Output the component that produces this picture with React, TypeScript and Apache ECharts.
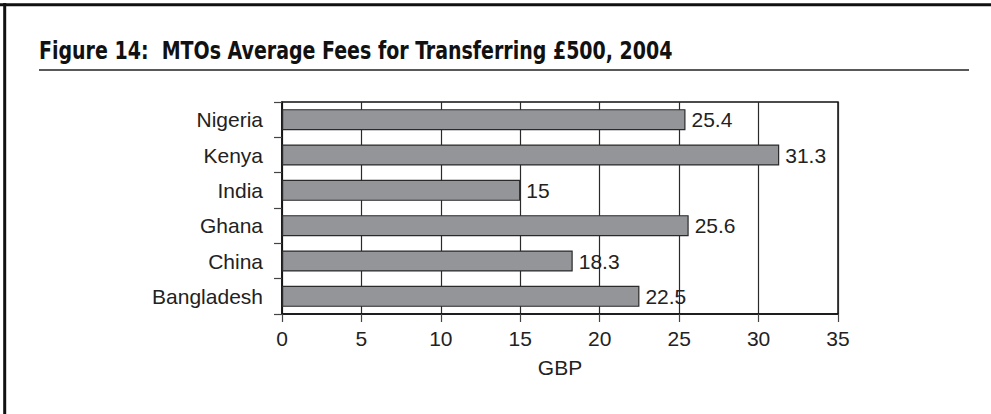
import React, { useEffect, useRef } from "react";
import * as echarts from "echarts";

const categories = ["Nigeria", "Kenya", "India", "Ghana", "China", "Bangladesh"];
const fees = [25.4, 31.3, 15, 25.6, 18.3, 22.5];
const titleText = "Figure 14:  MTOs Average Fees for Transferring £500, 2004";
const axisName = "GBP";

export default function App() {
  const ref = useRef<HTMLDivElement>(null);
  useEffect(() => {
    if (!ref.current) return;
    const chart = echarts.init(ref.current, null, { renderer: "svg" });
    const font = "'Liberation Sans', Arial, Helvetica, sans-serif";
    chart.setOption({
      animation: false,
      backgroundColor: "#ffffff",
      grid: {
        left: 282,
        top: 102,
        width: 556,
        height: 212,
        show: true,
        borderColor: "#111",
        borderWidth: 1.5,
        backgroundColor: "transparent",
      },
      xAxis: {
        type: "value",
        min: 0,
        max: 35,
        interval: 5,
        name: axisName,
        nameLocation: "middle",
        nameGap: 43,
        nameTextStyle: { fontFamily: font, fontSize: 21, color: "#222" },
        axisLine: { show: true, lineStyle: { color: "#111", width: 1.5 } },
        axisTick: { show: true, length: 8, lineStyle: { color: "#444", width: 1.2 } },
        axisLabel: { fontFamily: font, fontSize: 21, color: "#222", margin: 14 },
        splitLine: { show: true, lineStyle: { color: "#2a2a2a", width: 1.2 } },
      },
      yAxis: {
        type: "category",
        data: categories,
        inverse: true,
        axisLine: { show: true, lineStyle: { color: "#111", width: 1.5 } },
        axisTick: { show: true, length: 8, lineStyle: { color: "#444", width: 1.2 } },
        axisLabel: { fontFamily: font, fontSize: 21, color: "#222", margin: 19 },
        splitLine: { show: false },
      },
      series: [
        {
          type: "bar",
          data: fees,
          barWidth: 21,
          itemStyle: { color: "#939598", borderColor: "#2a2a2a", borderWidth: 1.2 },
          label: {
            show: true,
            position: "right",
            distance: 6,
            fontFamily: font,
            fontSize: 21,
            color: "#222",
          },
        },
      ],
      graphic: [
        {
          type: "line",
          shape: { x1: 0, y1: 4.7, x2: 991, y2: 4.7 },
          style: { stroke: "#111", lineWidth: 3 },
        },
        {
          type: "line",
          shape: { x1: 4.7, y1: 3, x2: 4.7, y2: 414 },
          style: { stroke: "#111", lineWidth: 3 },
        },
        {
          type: "text",
          x: 39,
          y: 38,
          scaleX: 0.88,
          style: {
            text: titleText,
            fontFamily: "'DejaVu Sans Condensed', 'DejaVu Sans', sans-serif",
            fontWeight: "bold",
            fontSize: 24,
            fill: "#111",
          },
        },
        {
          type: "line",
          shape: { x1: 39, y1: 70, x2: 969, y2: 70 },
          style: { stroke: "#222", lineWidth: 1.5 },
        },
      ],
    });
    return () => chart.dispose();
  }, []);
  return (
    <div
      ref={ref}
      style={{ position: "fixed", left: 0, top: 0, width: 991, height: 414 }}
    />
  );
}
